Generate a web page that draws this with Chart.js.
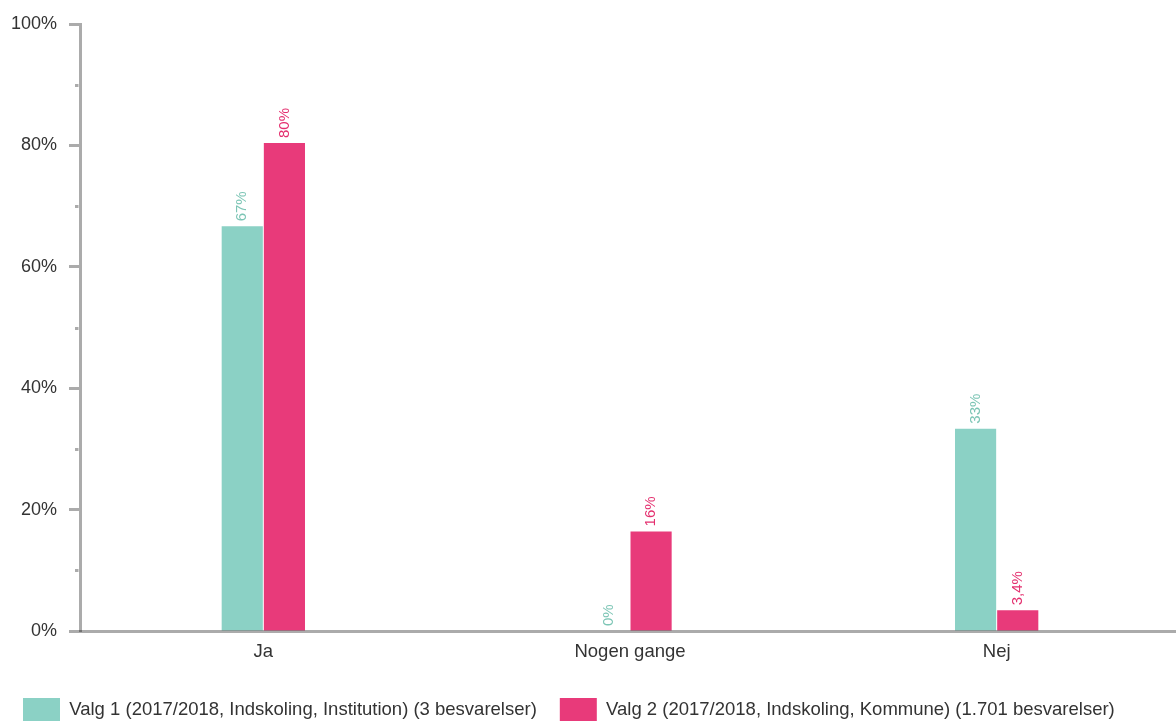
<!DOCTYPE html>
<html>
<head>
<meta charset="utf-8">
<script src="https://cdn.jsdelivr.net/npm/chart.js@4/dist/chart.umd.min.js"></script>
<style>
  html, body { margin: 0; padding: 0; background: #fff; overflow: hidden; }
  #wrap { width: 1176px; height: 722px; overflow: hidden; }
  #chart { display: block; }
</style>
</head>
<body>
<div id="wrap"><canvas id="chart" width="1180" height="731"></canvas></div>
<script>
// data
const categories = ['Ja', 'Nogen gange', 'Nej'];
const seriesNames = [
    'Valg 1 (2017/2018, Indskoling, Institution) (3 besvarelser)',
    'Valg 2 (2017/2018, Indskoling, Kommune) (1.701 besvarelser)'
];
const valg1 = [66.67, 0, 33.33];
const valg2 = [80.4, 16.4, 3.4];
const yTicks = [0, 20, 40, 60, 80, 100];

const teal = '#8bd1c5';
const pink = '#e83a7a';
const labelColors = ['#7cc5b5', '#e4306f'];
const axisColor = 'rgba(0,0,0,0.33)';
const font = "'Liberation Sans', Arial, sans-serif";

function fmt(v) {
    if (v === 0 || v >= 10) return Math.round(v) + '%';
    return v.toFixed(1).replace('.', ',') + '%';
}

// value labels above each bar, turned on their side
const barLabels = {
    id: 'barLabels',
    afterDatasetsDraw(chart) {
        const ctx = chart.ctx;
        chart.data.datasets.forEach(function(ds, i) {
            const meta = chart.getDatasetMeta(i);
            meta.data.forEach(function(bar, j) {
                ctx.save();
                ctx.translate(bar.x, bar.y - 5);
                ctx.rotate(-Math.PI / 2);
                ctx.font = '15px ' + font;
                ctx.fillStyle = labelColors[i];
                ctx.textAlign = 'left';
                ctx.textBaseline = 'middle';
                ctx.fillText(fmt(ds.data[j]), 0, 0);
                ctx.restore();
            });
        });
    }
};

// short ticks between the labelled ones
const minorTicks = {
    id: 'minorTicks',
    afterDraw(chart) {
        const y = chart.scales.y;
        const ctx = chart.ctx;
        ctx.save();
        ctx.strokeStyle = axisColor;
        ctx.lineWidth = 3;
        for (let v = 10; v < 100; v += 20) {
            const py = Math.round(y.getPixelForValue(v)) + 0.5;
            ctx.beginPath();
            ctx.moveTo(y.right - 5, py);
            ctx.lineTo(y.right - 1.5, py);
            ctx.stroke();
        }
        ctx.restore();
    }
};

new Chart(document.getElementById('chart').getContext('2d'), {
    type: 'bar',
    data: {
        labels: categories,
        datasets: [{
            label: seriesNames[0],
            data: valg1,
            backgroundColor: teal,
            categoryPercentage: 0.23,
            barPercentage: 0.976
        }, {
            label: seriesNames[1],
            data: valg2,
            backgroundColor: pink,
            categoryPercentage: 0.23,
            barPercentage: 0.976
        }]
    },
    options: {
        responsive: false,
        animation: false,
        layout: { padding: { top: 24, left: 0, right: 0, bottom: 0 } },
        plugins: {
            tooltip: { enabled: false },
            legend: {
                position: 'bottom',
                align: 'start',
                labels: {
                    boxWidth: 37,
                    boxHeight: 23,
                    padding: 23,
                    color: '#333',
                    font: { family: font, size: 18.5 }
                }
            }
        },
        scales: {
            x: {
                grid: { display: false, drawTicks: false },
                border: { display: true, color: axisColor, width: 3, z: 1 },
                ticks: { color: '#333', padding: 10, font: { family: font, size: 18.5 } },
                afterFit(scale) { scale.height = 44; }
            },
            y: {
                min: 0,
                max: 100,
                afterBuildTicks(scale) {
                    scale.ticks = yTicks.map(function(v) { return { value: v }; });
                },
                grid: {
                    drawOnChartArea: false,
                    tickLength: 11,
                    tickWidth: 3,
                    tickColor: axisColor
                },
                border: { display: true, color: axisColor, width: 3, z: 1 },
                ticks: {
                    color: '#333',
                    padding: 12,
                    font: { family: font, size: 18 },
                    callback: function(v) { return v + '%'; }
                },
                afterFit(scale) { scale.width = 80; }
            }
        }
    },
    plugins: [barLabels, minorTicks]
});
</script>
</body>
</html>
